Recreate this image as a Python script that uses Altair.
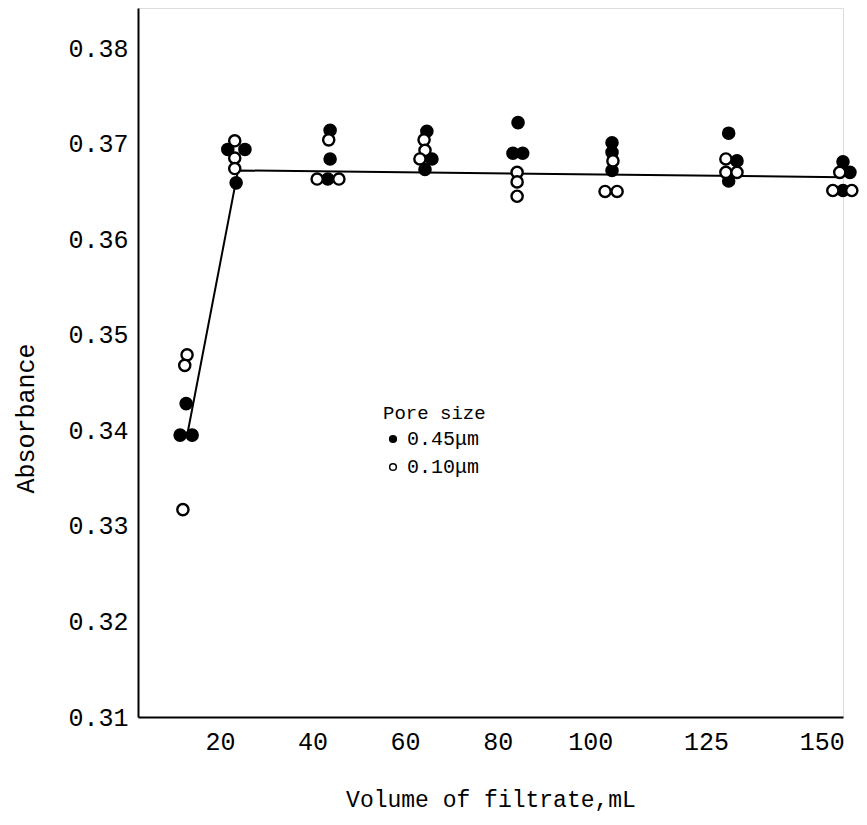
import altair as alt
import pandas as pd

# Pore size 0.45 µm (filled circles)
filled_x = [11.4, 14.0, 12.7,
            21.7, 25.4, 23.5,
            43.8, 43.8, 43.3,
            64.7, 65.8, 64.3,
            84.4, 83.3, 85.4,
            104.7, 104.7, 104.7,
            129.9, 131.7, 129.9,
            154.6, 156.1, 154.6]
filled_y = [0.3395, 0.3395, 0.3428,
            0.3694, 0.3694, 0.3659,
            0.3714, 0.3684, 0.3663,
            0.3713, 0.3684, 0.3673,
            0.3722, 0.3690, 0.3690,
            0.3701, 0.3691, 0.3672,
            0.3711, 0.3682, 0.3661,
            0.3681, 0.3670, 0.3651]

# Pore size 0.10 µm (open circles)
open_x = [12.9, 12.4, 12.0,
          23.2, 23.2, 23.2,
          43.5, 41.0, 45.7,
          64.1, 64.3, 63.2,
          84.2, 84.2, 84.2,
          104.9, 103.2, 105.8,
          129.3, 129.3, 131.7,
          153.9, 152.4, 156.5]
open_y = [0.3479, 0.3468, 0.3317,
          0.3703, 0.3685, 0.3674,
          0.3704, 0.3663, 0.3663,
          0.3704, 0.3693, 0.3684,
          0.3670, 0.3660, 0.3645,
          0.3682, 0.3650, 0.3650,
          0.3684, 0.3670, 0.3670,
          0.3670, 0.3651, 0.3651]

# fitted line
line_x = [13.0, 23.9, 154.6]
line_y = [0.3397, 0.3672, 0.3665]

x_ticks = [20, 40, 60, 80, 100, 125, 150]
y_ticks = [0.31, 0.32, 0.33, 0.34, 0.35, 0.36, 0.37, 0.38]
series = ["0.45μm", "0.10μm"]

pts = pd.DataFrame(
    {"x": filled_x + open_x,
     "y": filled_y + open_y,
     "pore": [series[0]] * len(filled_x) + [series[1]] * len(open_x),
     "order": [0] * len(filled_x) + [1] * len(open_x)}
)
ln = pd.DataFrame({"x": line_x, "y": line_y})

FONT = "Liberation Mono"
xs = alt.Scale(domain=[2.3, 154.6], nice=False, zero=False)
ys = alt.Scale(domain=[0.31, 0.3842], nice=False, zero=False)

xaxis = alt.Axis(values=x_ticks, title="Volume of filtrate,mL", grid=False,
                 ticks=False, labelFont=FONT, labelFontSize=25, labelColor="black",
                 labelPadding=12, titleFont=FONT, titleFontSize=23,
                 titleFontWeight="normal", titleColor="black", titlePadding=34,
                 domainColor="black", domainWidth=2, labelFlush=False)
yaxis = alt.Axis(values=y_ticks, format=".2f", title="Absorbance", grid=False,
                 ticks=False, labelFont=FONT, labelFontSize=25, labelColor="black",
                 labelPadding=10, titleFont=FONT, titleFontSize=25,
                 titleFontWeight="normal", titleColor="black", titleAngle=270,
                 titleX=-100, titleY=410, titleAlign="center",
                 domainColor="black", domainWidth=2, labelFlush=False)

line = alt.Chart(ln).mark_line(color="black", strokeWidth=2).encode(
    x=alt.X("x:Q", scale=xs, axis=xaxis),
    y=alt.Y("y:Q", scale=ys, axis=yaxis),
)

points = alt.Chart(pts).mark_point(shape="circle", size=125, stroke="black",
                                   strokeWidth=2.4, opacity=1, clip=False).encode(
    x=alt.X("x:Q", scale=xs),
    y=alt.Y("y:Q", scale=ys),
    fill=alt.Fill("pore:N", scale=alt.Scale(domain=series, range=["black", "white"]),
                  legend=alt.Legend(title="Pore size", orient="none", legendX=245,
                                    legendY=396, titleFont=FONT, titleFontSize=19,
                                    titleFontWeight="normal", titleColor="black",
                                    labelFont=FONT, labelFontSize=20, labelColor="black",
                                    symbolType="circle", symbolSize=45,
                                    symbolStrokeColor="black", symbolStrokeWidth=1.5,
                                    rowPadding=8, titlePadding=6, labelOffset=4)),
    order=alt.Order("order:Q"),
)

chart = (line + points).properties(
    width=705, height=709,
    autosize=alt.AutoSizeParams(type="none"),
    padding={"left": 130, "top": 0, "right": 16, "bottom": 100},
).configure_view(stroke=None).configure(background="white")

chart.save("out.html", embed_options={"renderer": "svg", "actions": False})
